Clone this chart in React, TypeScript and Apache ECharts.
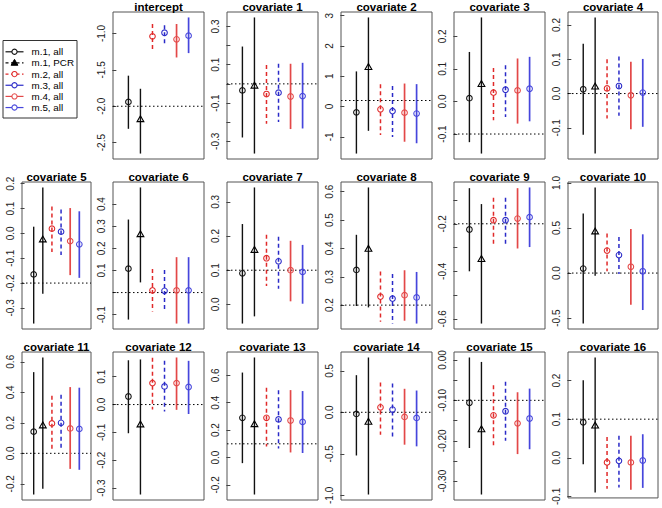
import React, { useEffect, useRef } from "react";
import * as echarts from "echarts";

// ---------------- data ----------------
const METHODS = ["m.1, all", "m.1, PCR", "m.2, all", "m.3, all", "m.4, all", "m.5, all"];

const PANELS = [
  "intercept", "covariate 1", "covariate 2", "covariate 3", "covariate 4",
  "covariate 5", "covariate 6", "covariate 7", "covariate 8", "covariate 9", "covariate 10",
  "covariate 11", "covariate 12", "covariate 13", "covariate 14", "covariate 15", "covariate 16",
];

// estimates per panel, order: m.1 all, m.1 PCR, m.2, m.3, m.4, m.5
const ESTIMATES = [
  [-1.94, -2.18, -1.04, -0.99, -1.08, -1.03],
  [-0.034, -0.01, -0.053, -0.046, -0.066, -0.064],
  [-0.19, 1.3, -0.09, -0.15, -0.2, -0.23],
  [0.01, 0.053, 0.027, 0.036, 0.034, 0.039],
  [0.0125, 0.02, 0.015, 0.022, -0.005, 0.003],
  [-0.165, -0.025, 0.019, 0.007, -0.031, -0.044],
  [0.108, 0.263, 0.01, 0.008, 0.01, 0.01],
  [0.091, 0.159, 0.135, 0.126, 0.1, 0.095],
  [0.324, 0.398, 0.23, 0.223, 0.235, 0.227],
  [-0.224, -0.349, -0.185, -0.185, -0.178, -0.172],
  [0.05, 0.46, 0.25, 0.2, 0.07, 0.02],
  [0.142, 0.182, 0.196, 0.2, 0.163, 0.16],
  [0.029, -0.072, 0.077, 0.065, 0.077, 0.063],
  [0.29, 0.242, 0.29, 0.278, 0.27, 0.26],
  [-0.02, -0.116, 0.06, 0.033, -0.056, -0.068],
  [-0.106, -0.172, -0.137, -0.127, -0.157, -0.145],
  [0.092, 0.083, -0.012, -0.008, -0.012, -0.007],
];

const LOWERS = [
  [-2.31, -2.65, -1.22, -1.17, -1.33, -1.27],
  [-0.28, -0.364, -0.208, -0.199, -0.236, -0.233],
  [-1.55, -0.8, -0.94, -1.0, -1.16, -1.21],
  [-0.125, -0.16, -0.058, -0.048, -0.068, -0.061],
  [-0.12, -0.175, -0.073, -0.065, -0.104, -0.097],
  [-0.363, -0.243, -0.075, -0.087, -0.168, -0.179],
  [-0.122, 0.046, -0.085, -0.085, -0.14, -0.14],
  [-0.056, -0.035, 0.054, 0.046, 0.009, 0.002],
  [0.197, 0.192, 0.141, 0.135, 0.145, 0.135],
  [-0.4, -0.62, -0.285, -0.285, -0.304, -0.298],
  [-0.56, -0.03, 0.02, -0.01, -0.35, -0.41],
  [-0.27, -0.233, 0.018, 0.018, -0.102, -0.108],
  [-0.103, -0.323, -0.018, -0.025, -0.019, -0.034],
  [-0.041, -0.27, 0.08, 0.066, 0.037, 0.033],
  [-0.52, -0.99, -0.27, -0.29, -0.39, -0.41],
  [-0.218, -0.333, -0.211, -0.2, -0.233, -0.221],
  [-0.017, -0.09, -0.08, -0.077, -0.083, -0.078],
];

const UPPERS = [
  [-1.58, -1.76, -0.87, -0.886, -0.87, -0.78],
  [0.195, 0.347, 0.098, 0.105, 0.105, 0.11],
  [1.16, 2.94, 0.74, 0.68, 0.76, 0.74],
  [0.152, 0.258, 0.103, 0.111, 0.132, 0.137],
  [0.145, 0.222, 0.1, 0.108, 0.093, 0.101],
  [0.027, 0.185, 0.108, 0.096, 0.102, 0.089],
  [0.33, 0.475, 0.107, 0.102, 0.16, 0.16],
  [0.235, 0.342, 0.204, 0.198, 0.186, 0.174],
  [0.448, 0.615, 0.319, 0.31, 0.323, 0.317],
  [-0.05, -0.117, -0.09, -0.09, -0.05, -0.047],
  [0.66, 0.95, 0.44, 0.4, 0.49, 0.43],
  [0.532, 0.628, 0.378, 0.384, 0.434, 0.43],
  [0.159, 0.162, 0.168, 0.157, 0.169, 0.157],
  [0.62, 0.73, 0.51, 0.49, 0.492, 0.485],
  [0.447, 0.66, 0.36, 0.347, 0.283, 0.262],
  [0.006, -0.005, -0.063, -0.054, -0.08, -0.071],
  [0.201, 0.26, 0.054, 0.057, 0.057, 0.061],
];

// true values (dotted reference lines)
const TRUE_VALUES = [-2.0, 0, 0.2, -0.1, 0, -0.2, 0, 0.1, 0.2, -0.2, 0, 0, 0, 0.1, 0, -0.1, 0.1];

// y-axis tick positions and labelled ticks
const TICKS = [
  [-2.5, -2.0, -1.5, -1.0],
  [-0.3, -0.2, -0.1, 0, 0.1, 0.2, 0.3],
  [-1, 0, 1, 2, 3],
  [-0.1, 0, 0.1, 0.2],
  [-0.1, 0, 0.1, 0.2],
  [-0.3, -0.2, -0.1, 0, 0.1, 0.2],
  [-0.1, 0, 0.1, 0.2, 0.3, 0.4],
  [0, 0.1, 0.2, 0.3],
  [0.2, 0.3, 0.4, 0.5, 0.6],
  [-0.6, -0.5, -0.4, -0.3, -0.2, -0.1],
  [-0.5, 0, 0.5, 1.0],
  [-0.2, 0, 0.2, 0.4, 0.6],
  [-0.3, -0.2, -0.1, 0, 0.1],
  [-0.2, 0, 0.2, 0.4, 0.6],
  [-1.0, -0.5, 0, 0.5],
  [-0.3, -0.25, -0.2, -0.15, -0.1, -0.05, 0],
  [-0.1, 0, 0.1, 0.2],
];
const TICK_LABELS = [
  [-2.5, -2.0, -1.5, -1.0],
  [-0.3, -0.1, 0.1, 0.3],
  [-1, 0, 1, 2, 3],
  [-0.1, 0, 0.1, 0.2],
  [-0.1, 0, 0.1, 0.2],
  [-0.3, -0.2, -0.1, 0, 0.1, 0.2],
  [-0.1, 0.1, 0.2, 0.3, 0.4],
  [0, 0.1, 0.2, 0.3],
  [0.2, 0.3, 0.4, 0.5, 0.6],
  [-0.6, -0.4, -0.2],
  [-0.5, 0, 0.5, 1.0],
  [-0.2, 0, 0.2, 0.4, 0.6],
  [-0.3, -0.2, -0.1, 0, 0.1],
  [-0.2, 0, 0.2, 0.4, 0.6],
  [-1.0, -0.5, 0, 0.5],
  [-0.3, -0.2, -0.1, 0],
  [-0.1, 0, 0.1, 0.2],
];
const TICK_DECIMALS = [1, 1, 0, 1, 1, 1, 1, 1, 1, 1, 1, 1, 1, 1, 1, 2, 1];

// ---------------- layout & styles ----------------
const PANEL_COL = [1, 2, 3, 4, 5, 0, 1, 2, 3, 4, 5, 0, 1, 2, 3, 4, 5];
const PANEL_ROW = [0, 0, 0, 0, 0, 1, 1, 1, 1, 1, 1, 2, 2, 2, 2, 2, 2];
const COL_BOX = [[22, 69], [113, 91], [227, 91], [341, 91], [454, 91], [568, 90]];
const ROW_BOX = [[12, 147], [182, 147], [352, 148]];
const X_MIN = -0.28;
const X_MAX = 7.28;

const M_COLOR = ["#111111", "#111111", "#e02a2a", "#2a2ac8", "#e34848", "#4646dc"];
const M_WIDTH = [1.4, 1.4, 1.5, 1.5, 1.7, 1.7];
const M_DASH: (number[] | null)[] = [null, null, [4, 3], [4, 3], null, null];
const M_SYMBOL = ["circle", "triangle", "circle", "circle", "circle", "circle"];
const LEGEND_DASH = [false, true, true, false, false, false];

const FONT = '"Liberation Sans", Arial, Helvetica, sans-serif';

function yExtent(i: number): [number, number] {
  const vals = [...LOWERS[i], ...UPPERS[i], TRUE_VALUES[i]];
  const a = Math.min(...vals);
  const b = Math.max(...vals);
  const r = b - a;
  return [a - 0.04 * r, b + 0.04 * r];
}

function renderCI(_params: any, api: any) {
  const x = api.value(0);
  const m = api.value(4);
  const top = api.coord([x, api.value(3)]);
  const bot = api.coord([x, api.value(2)]);
  const c = api.coord([x, api.value(1)]);
  const color = M_COLOR[m];
  const lineStyle: any = { stroke: color, lineWidth: M_WIDTH[m] };
  if (M_DASH[m]) lineStyle.lineDash = M_DASH[m];
  const children: any[] = [
    { type: "line", shape: { x1: top[0], y1: top[1], x2: bot[0], y2: bot[1] }, style: lineStyle },
  ];
  if (M_SYMBOL[m] === "triangle") {
    children.push({
      type: "polygon",
      shape: { points: [[c[0], c[1] - 3.6], [c[0] - 3.4, c[1] + 2.3], [c[0] + 3.4, c[1] + 2.3]] },
      style: { fill: "none", stroke: "#000", lineWidth: 1.1 },
    });
  } else {
    children.push({
      type: "circle",
      shape: { cx: c[0], cy: c[1], r: 2.8 },
      style: { fill: "none", stroke: color, lineWidth: 1.1 },
    });
  }
  return { type: "group", children };
}

function renderRef(_params: any, api: any) {
  const v = api.value(1);
  const a = api.coord([X_MIN, v]);
  const b = api.coord([X_MAX, v]);
  return {
    type: "line",
    shape: { x1: a[0], y1: a[1], x2: b[0], y2: b[1] },
    style: { stroke: "#000", lineWidth: 1, lineDash: [1.5, 2.5] },
  };
}

function buildOption() {
  const grid: any[] = [];
  const xAxis: any[] = [];
  const yAxis: any[] = [];
  const series: any[] = [];
  const graphic: any[] = [];

  PANELS.forEach((title, i) => {
    const [left, width] = COL_BOX[PANEL_COL[i]];
    const [top, height] = ROW_BOX[PANEL_ROW[i]];
    const [lo, hi] = yExtent(i);
    const dec = TICK_DECIMALS[i];
    grid.push({ left, top, width, height, show: true, borderColor: "#555", borderWidth: 1, backgroundColor: "transparent" });
    xAxis.push({ gridIndex: i, type: "value", min: X_MIN, max: X_MAX, show: false });
    yAxis.push({
      gridIndex: i,
      type: "value",
      min: lo,
      max: hi,
      axisLine: { show: false },
      splitLine: { show: false },
      axisTick: { show: true, length: 4, lineStyle: { color: "#444", width: 1 }, customValues: TICKS[i] },
      axisLabel: {
        show: true,
        rotate: 90,
        margin: 7,
        fontSize: 10,
        fontFamily: FONT,
        color: "#222",
        customValues: TICK_LABELS[i],
        formatter: (v: number) => (Math.abs(v) < 1e-9 ? 0 : v).toFixed(dec),
      },
    });
    series.push({
      type: "custom",
      xAxisIndex: i,
      yAxisIndex: i,
      renderItem: renderRef,
      encode: { x: 0, y: 1 },
      data: [[0, TRUE_VALUES[i]]],
      silent: true,
      z: 1,
    });
    series.push({
      type: "custom",
      xAxisIndex: i,
      yAxisIndex: i,
      renderItem: renderCI,
      encode: { x: 0, y: [1, 2, 3] },
      data: METHODS.map((_, m) => [m + 1, ESTIMATES[i][m], LOWERS[i][m], UPPERS[i][m], m]),
      silent: true,
      z: 2,
    });
    graphic.push({
      type: "text",
      x: left + width / 2,
      y: top - 5.5,
      style: {
        text: title,
        font: `bold 11.5px ${FONT}`,
        fontWeight: "bold",
        fontSize: 11.5,
        fontFamily: FONT,
        fill: "#000",
        align: "center",
        verticalAlign: "middle",
        textAlign: "center",
        textVerticalAlign: "middle",
      },
    });
  });

  // legend
  const legendChildren: any[] = [
    { type: "rect", shape: { x: 3, y: 40.5, width: 74, height: 77.5 }, style: { fill: "#fff", stroke: "#333", lineWidth: 1 } },
  ];
  METHODS.forEach((name, m) => {
    const y = 51.8 + m * 11.15;
    const color = M_COLOR[m];
    const ls: any = { stroke: color, lineWidth: 1.2 };
    if (LEGEND_DASH[m]) ls.lineDash = [3, 2.5];
    legendChildren.push({ type: "line", shape: { x1: 5.5, y1: y, x2: 23.5, y2: y }, style: ls });
    if (M_SYMBOL[m] === "triangle") {
      legendChildren.push({
        type: "polygon",
        shape: { points: [[14.5, y - 3.6], [11.1, y + 2.3], [17.9, y + 2.3]] },
        style: { fill: "#000", stroke: "#000", lineWidth: 1 },
      });
    } else {
      legendChildren.push({ type: "circle", shape: { cx: 14.5, cy: y, r: 2.6 }, style: { fill: "#fff", stroke: color, lineWidth: 1.1 } });
    }
    legendChildren.push({
      type: "text",
      x: 31.5,
      y,
      style: {
        text: name,
        font: `9.8px ${FONT}`,
        fontSize: 9.8,
        fontFamily: FONT,
        fill: "#000",
        align: "left",
        verticalAlign: "middle",
        textAlign: "left",
        textVerticalAlign: "middle",
      },
    });
  });
  graphic.push({ type: "group", children: legendChildren });

  return {
    animation: false,
    backgroundColor: "#ffffff",
    grid,
    xAxis,
    yAxis,
    series,
    graphic,
  };
}

export default function App() {
  const ref = useRef<HTMLDivElement>(null);
  useEffect(() => {
    document.body.style.margin = "0";
    if (!ref.current) return;
    const chart = echarts.init(ref.current, null, { renderer: "svg" });
    chart.setOption(buildOption() as any);
    return () => chart.dispose();
  }, []);
  return (
    <div
      ref={ref}
      style={{ position: "absolute", left: 0, top: 0, width: 662, height: 508, background: "#fff" }}
    />
  );
}
